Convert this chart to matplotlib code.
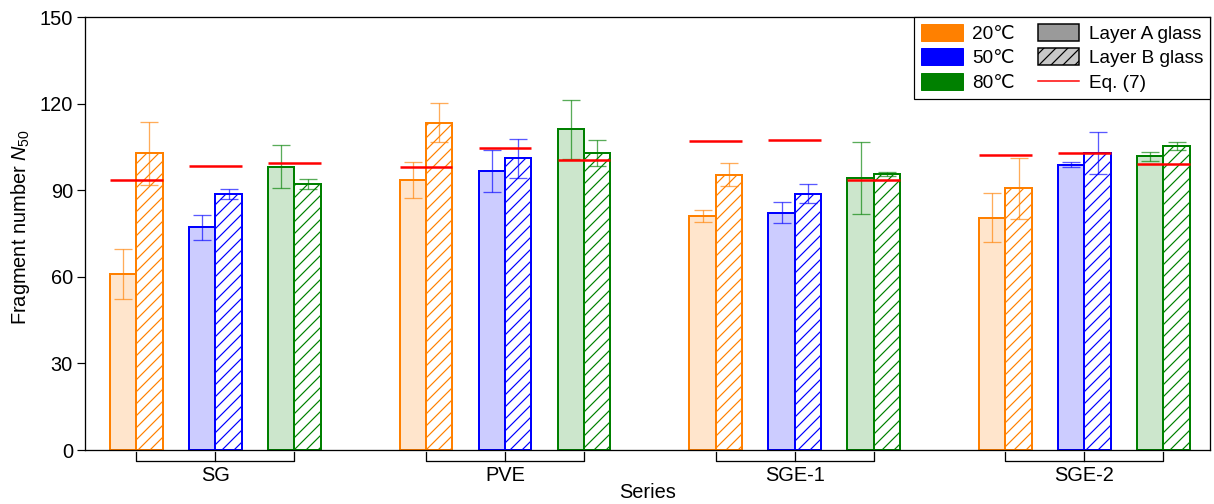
import numpy as np
import matplotlib
matplotlib.use('Agg')
import matplotlib.pyplot as plt
from matplotlib.patches import Patch
from matplotlib.lines import Line2D

plt.rcParams['font.family'] = ['Liberation Sans', 'DejaVu Sans']
plt.rcParams['mathtext.fontset'] = 'custom'
plt.rcParams['mathtext.rm'] = 'Liberation Sans'
plt.rcParams['mathtext.it'] = 'Liberation Sans:italic'
plt.rcParams['hatch.linewidth'] = 1.2

groups = ['SG', 'PVE', 'SGE-1', 'SGE-2']
temps = ['20℃', '50℃', '80℃']

# Layer A glass (filled bars)
a_20 = [60.9, 93.5, 81.1, 80.5]
a_50 = [77.1, 96.8, 82.2, 98.9]
a_80 = [98.1, 111.1, 94.2, 101.7]
a_20_err = [8.6, 6.3, 2.0, 8.5]
a_50_err = [4.4, 7.3, 3.6, 1.0]
a_80_err = [7.5, 10.2, 12.5, 1.7]

# Layer B glass (hatched bars)
b_20 = [102.8, 113.4, 95.3, 90.6]
b_50 = [88.7, 101.0, 88.8, 103.0]
b_80 = [92.1, 103.0, 95.6, 105.3]
b_20_err = [11.0, 6.7, 4.0, 10.4]
b_50_err = [1.7, 6.6, 3.2, 7.3]
b_80_err = [1.8, 4.5, 0.7, 1.5]

# Eq. (7) predictions
eq7_20 = [93.5, 98.1, 107.0, 102.2]
eq7_50 = [98.3, 104.6, 107.4, 103.0]
eq7_80 = [99.3, 100.6, 93.7, 99.1]

colors = ['#FF8000', '#0000FF', '#008000']
light = ['#FFE5CC', '#CCCCFF', '#CCE6CC']

a_vals = [a_20, a_50, a_80]
a_errs = [a_20_err, a_50_err, a_80_err]
b_vals = [b_20, b_50, b_80]
b_errs = [b_20_err, b_50_err, b_80_err]
eq7 = [eq7_20, eq7_50, eq7_80]

fig = plt.figure(figsize=(1214 / 72, 504 / 72), dpi=72)
ax = fig.add_axes([0.0700, 0.1071, 0.9267, 0.8591])

group_x = np.arange(len(groups)) * 11.0
offsets = [-3, 0, 3]
w = 1.0
bar_centers = []

for i in range(3):
    xc = group_x + offsets[i]
    xa = xc - w / 2
    xb = xc + w / 2
    ax.bar(xa, a_vals[i], width=w, color=light[i], edgecolor=colors[i], linewidth=2, zorder=2)
    ax.bar(xb, b_vals[i], width=w, color='white', edgecolor=colors[i], hatch='//', linewidth=2, zorder=2)
    ax.errorbar(xa, a_vals[i], yerr=a_errs[i], fmt='none', ecolor=colors[i], alpha=0.65,
                elinewidth=1.3, capsize=9, capthick=1.3, zorder=3)
    ax.errorbar(xb, b_vals[i], yerr=b_errs[i], fmt='none', ecolor=colors[i], alpha=0.65,
                elinewidth=1.3, capsize=9, capthick=1.3, zorder=3)
    ax.hlines(eq7[i], xc - w, xc + w, colors='red', linewidth=2.5, zorder=4)
    bar_centers += list(xa) + list(xb)

ax.set_xlim(-4.95, 37.77)
ax.set_ylim(0, 150)
ax.set_yticks(np.arange(0, 151, 30))
ax.tick_params(axis='y', direction='out', length=8, width=1.2, labelsize=20, pad=4)
ax.set_xticks(sorted(bar_centers))
ax.set_xticklabels([])
ax.tick_params(axis='x', direction='in', length=4, width=1.2)
for s in ax.spines.values():
    s.set_linewidth(1.3)

# group brackets under the axis
trans = ax.get_xaxis_transform()
for gx, name in zip(group_x, groups):
    ax.plot([gx - 3, gx - 3, gx + 3, gx + 3], [-0.005, -0.025, -0.025, -0.005],
            color='black', linewidth=1.3, transform=trans, clip_on=False)
    ax.plot([gx, gx], [-0.005, -0.025], color='black', linewidth=1.3, transform=trans, clip_on=False)
    ax.text(gx, -0.058, name, transform=trans, ha='center', va='center', fontsize=20)

ax.text(0.5, -0.097, 'Series', transform=ax.transAxes, ha='center', va='center', fontsize=20)
ax.set_ylabel('Fragment number $\\mathit{N}_{50}$', fontsize=20)
ax.yaxis.set_label_coords(-0.047, 0.515)

handles = [Patch(facecolor=c, edgecolor=c) for c in colors]
handles += [Patch(facecolor='#9A9A9A', edgecolor='black', linewidth=1.5),
            Patch(facecolor='#C8C8C8', edgecolor='black', hatch='//', linewidth=1.5),
            Line2D([0], [0], color='red', linewidth=1.5)]
labels = temps + ['Layer A glass', 'Layer B glass', 'Eq. (7)']
leg = ax.legend(handles, labels, ncol=2, loc='upper right', bbox_to_anchor=(1, 1),
                borderaxespad=0, fontsize=19, fancybox=False, edgecolor='black',
                framealpha=1, handlelength=2.2, handleheight=1.0, handletextpad=0.5,
                labelspacing=0.3, columnspacing=1.2, borderpad=0.35)
leg.get_frame().set_linewidth(1.2)

fig.savefig('out.png', dpi=72)
